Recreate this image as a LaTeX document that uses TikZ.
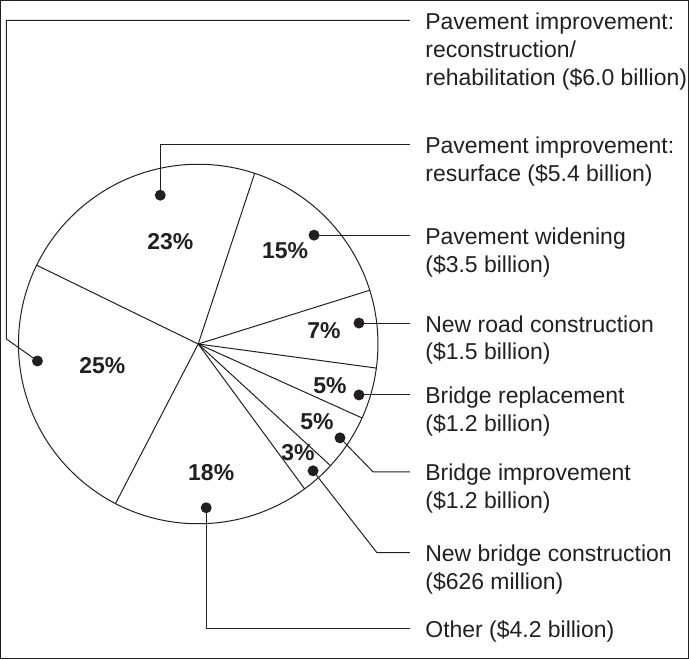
\documentclass[tikz,border=0pt]{standalone}
\usepackage{fontspec}
\setmainfont{Liberation Sans}
\definecolor{ink}{HTML}{231F20}
\begin{document}
\begin{tikzpicture}[x=1pt,y=-1pt,
  every path/.style={draw=ink,line width=1pt},
  lbl/.style={anchor=base west,inner sep=0pt,align=left,text=ink,font=\fontsize{23}{28}\selectfont},
  pct/.style={inner sep=0pt,text=ink,font=\fontsize{23}{28}\selectfont\bfseries},
  dot/.style={circle,fill=ink,draw=none,inner sep=0pt,minimum size=11pt},
  wire/.style={draw=ink,line width=1pt}]
\useasboundingbox (0,0) rectangle (689,659);
\coordinate (O) at (198,344);
\draw (O) circle (180pt);
\foreach \a in {71.7,17.4,-7.7,-24.3,-42.6,-53.7,-117.4,154} \draw (O) -- ++(\a:180pt);
% percentages
\node[pct] (p23) at (170,241) {23\%};
\node[pct] (p15) at (285,250) {15\%};
\node[pct] (p7) at (324,331) {7\%};
\node[pct] (p5a) at (330,386) {5\%};
\node[pct] (p5b) at (317,422) {5\%};
\node[pct] (p3) at (298,453) {3\%};
\node[pct] (p18) at (211,473) {18\%};
\node[pct] (p25) at (102,366) {25\%};
% dots
\node[dot] (d25) at (37,361) {};
\node[dot] (d23) at (160,195) {};
\node[dot] (d15) at (314,235) {};
\node[dot] (d7) at (359,323) {};
\node[dot] (d5a) at (359,395) {};
\node[dot] (d5b) at (340,438) {};
\node[dot] (d3) at (313,471) {};
\node[dot] (d18) at (206,508) {};
% labels (base = baseline of the last line)
\node[lbl] (t1) at (425,85) {Pavement improvement:\\reconstruction/\\rehabilitation (\$6.0 billion)};
\node[lbl] (t2) at (425,181) {Pavement improvement:\\resurface (\$5.4 billion)};
\node[lbl] (t3) at (425,272) {Pavement widening\\(\$3.5 billion)};
\node[lbl] (t4) at (425,360) {New road construction\\(\$1.5 billion)};
\node[lbl] (t5) at (425,432) {Bridge replacement\\(\$1.2 billion)};
\node[lbl] (t6) at (425,509) {Bridge improvement\\(\$1.2 billion)};
\node[lbl] (t7) at (425,590) {New bridge construction\\(\$626 million)};
\node[lbl] (t8) at (425,638) {Other (\$4.2 billion)};
% connector ends
\coordinate (e1) at (410,20);
\coordinate (e2) at (410,144);
\coordinate (e3) at (410,235);
\coordinate (e4) at (410,323);
\coordinate (e5) at (410,395);
\coordinate (e6) at (410,472);
\coordinate (e7) at (410,553);
\coordinate (e8) at (410,629);
\coordinate (b25) at (6,339);
\coordinate (b5) at (373,472);
\coordinate (b3) at (377,553);
% connectors
\draw[wire] (d25.center) -- (b25) |- (e1);
\draw[wire] (d23.center) |- (e2);
\draw[wire] (d15.center) -- (e3);
\draw[wire] (d7.center) -- (e4);
\draw[wire] (d5a.center) -- (e5);
\draw[wire] (d5b.center) -- (b5) -- (e6);
\draw[wire] (d3.center) -- (b3) -- (e7);
\draw[wire] (d18.center) |- (e8);
\end{tikzpicture}
\end{document}
